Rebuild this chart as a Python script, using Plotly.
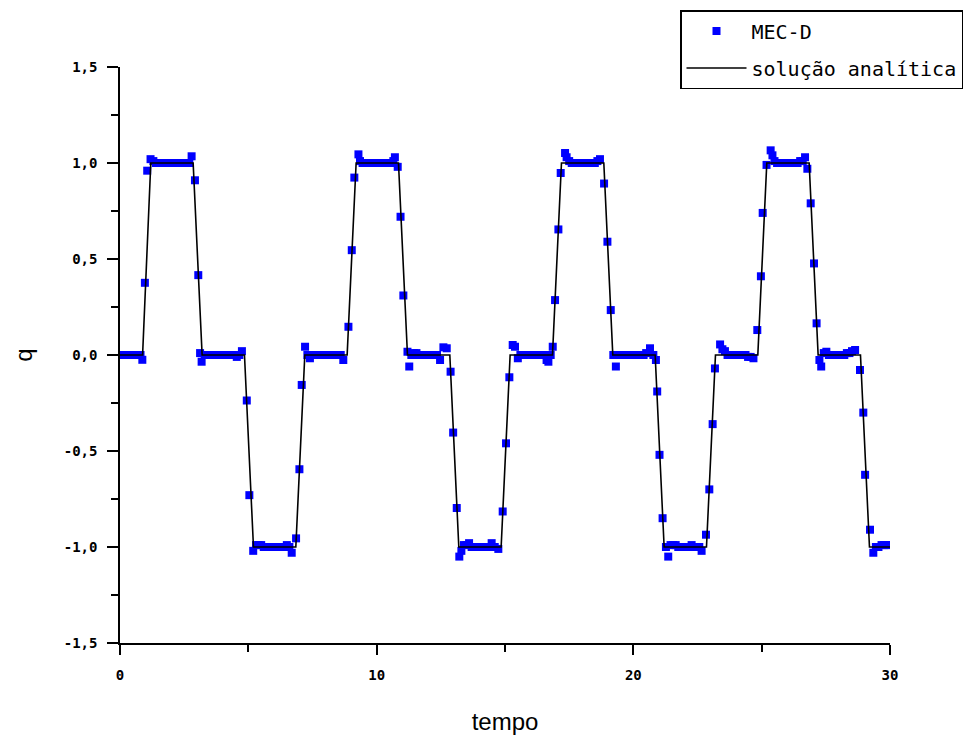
import plotly.graph_objects as go

# analytical solution breakpoints
t_analytic = [0, 0.88, 1.2, 2.85, 3.2, 4.85, 5.2, 6.85, 7.2, 8.85, 9.2, 10.85, 11.2,
              12.85, 13.2, 14.85, 15.2, 16.85, 17.2, 18.85, 19.2, 20.85, 21.2,
              22.85, 23.2, 24.85, 25.2, 26.85, 27.2, 28.85, 29.2, 30]
q_analytic = [0, 0, 1, 1, 0, 0, -1, -1, 0, 0, 1, 1, 0,
              0, -1, -1, 0, 0, 1, 1, 0, 0, -1,
              -1, 0, 0, 1, 1, 0, 0, -1, -1]

# MEC-D numerical points, one line per plateau / transition
t_mec = [
    0, 0.1, 0.2, 0.3, 0.4, 0.5, 0.6, 0.7, 0.8, 0.87,
    0.97, 1.06, 1.19,
    1.3, 1.4, 1.5, 1.6, 1.7, 1.8, 1.9, 2.0, 2.1, 2.2, 2.3, 2.4, 2.5, 2.6, 2.7, 2.79,
    2.92, 3.05, 3.12, 3.18,
    3.3, 3.4, 3.5, 3.6, 3.7, 3.8, 3.9, 4.0, 4.1, 4.2, 4.3, 4.4, 4.55, 4.65, 4.75,
    4.94, 5.04, 5.19,
    5.3, 5.4, 5.5, 5.6, 5.7, 5.8, 5.9, 6.0, 6.1, 6.2, 6.3, 6.4, 6.5, 6.6, 6.69,
    6.86, 6.99, 7.08, 7.21,
    7.3, 7.4, 7.5, 7.6, 7.7, 7.8, 7.9, 8.0, 8.1, 8.2, 8.3, 8.4, 8.5, 8.6, 8.7,
    8.9, 9.03, 9.13, 9.29,
    9.35, 9.45, 9.55, 9.65, 9.75, 9.85, 9.95, 10.05, 10.15, 10.25, 10.35, 10.45, 10.55, 10.65, 10.71,
    10.82, 10.93, 11.04, 11.2, 11.27,
    11.35, 11.45, 11.55, 11.65, 11.75, 11.85, 11.95, 12.05, 12.15, 12.25, 12.35, 12.47, 12.6, 12.73,
    12.88, 12.98, 13.12, 13.22,
    13.3, 13.4, 13.5, 13.6, 13.7, 13.8, 13.9, 14.0, 14.1, 14.2, 14.3, 14.4, 14.48, 14.6, 14.74,
    14.91, 15.04, 15.17, 15.3,
    15.39, 15.5, 15.6, 15.7, 15.8, 15.9, 16.0, 16.1, 16.2, 16.3, 16.4, 16.5, 16.62, 16.69, 16.78, 16.86,
    16.95, 17.08, 17.17, 17.34,
    17.4, 17.5, 17.6, 17.7, 17.8, 17.9, 18.0, 18.1, 18.2, 18.3, 18.4, 18.5, 18.6, 18.7,
    18.86, 18.99, 19.12, 19.22, 19.32,
    19.4, 19.5, 19.6, 19.7, 19.8, 19.9, 20.0, 20.1, 20.2, 20.3, 20.4, 20.5, 20.65, 20.78, 20.88,
    20.93, 21.02, 21.14, 21.27, 21.36,
    21.45, 21.55, 21.65, 21.75, 21.85, 21.95, 22.05, 22.15, 22.27, 22.37, 22.47, 22.57, 22.66,
    22.83, 22.96, 23.09, 23.18, 23.38,
    23.47, 23.57, 23.67, 23.77, 23.87, 23.97, 24.07, 24.17, 24.27, 24.37, 24.47, 24.57, 24.68,
    24.83, 24.97, 25.04, 25.19, 25.35, 25.42,
    25.5, 25.6, 25.7, 25.8, 25.9, 26.0, 26.1, 26.2, 26.3, 26.4, 26.5, 26.6, 26.69,
    26.78, 26.91, 27.04, 27.14, 27.25, 27.32,
    27.42, 27.52, 27.62, 27.72, 27.82, 27.92, 28.02, 28.12, 28.22, 28.32, 28.42, 28.52, 28.64,
    28.83, 28.96, 29.03, 29.22, 29.35,
    29.45, 29.55, 29.67, 29.77, 29.87, 29.97,
]
q_mec = [
    0, 0, 0, 0, 0, 0, 0, 0, 0, -0.025,
    0.376, 0.96, 1.02,
    1.01, 1.0, 1.0, 1.0, 1.0, 1.0, 1.0, 1.0, 1.0, 1.0, 1.0, 1.0, 1.0, 1.0, 1.0, 1.035,
    0.91, 0.416, 0.01, -0.035,
    0, 0, 0, 0, 0, 0, 0, 0, 0, 0, 0, 0, -0.01, 0.0, 0.02,
    -0.237, -0.73, -1.02,
    -0.99, -0.99, -0.99, -1.0, -1.0, -1.0, -1.0, -1.0, -1.0, -1.0, -1.0, -1.0, -0.99, -1.0, -1.03,
    -0.955, -0.595, -0.156, 0.043,
    0.0, -0.017, 0, 0, 0, 0, 0, 0, 0, 0, 0, 0, 0, 0, -0.026,
    0.147, 0.546, 0.924, 1.045,
    1.01, 1.0, 1.0, 1.0, 1.0, 1.0, 1.0, 1.0, 1.0, 1.0, 1.0, 1.0, 1.0, 1.01, 1.03,
    0.98, 0.72, 0.31, 0.017, -0.06,
    0.0, 0.01, 0.01, 0.0, 0, 0, 0, 0, 0, 0, 0, -0.026, 0.04, 0.035,
    -0.087, -0.404, -0.797, -1.05,
    -1.02, -0.99, -0.99, -0.98, -1.0, -1.0, -1.0, -1.0, -1.0, -1.0, -1.0, -1.0, -0.98, -1.0, -1.01,
    -0.815, -0.46, -0.116, 0.052,
    0.043, -0.017, 0, 0, 0, 0, 0, 0, 0, 0, 0, 0, -0.026, -0.035, 0.0, 0.043,
    0.286, 0.654, 0.948, 1.052,
    1.03, 1.01, 1.0, 1.0, 1.0, 1.0, 1.0, 1.0, 1.0, 1.0, 1.0, 1.0, 1.01, 1.02,
    0.893, 0.59, 0.234, 0.0, -0.06,
    0, 0, 0, 0, 0, 0, 0, 0, 0, 0, 0, 0.01, 0.035, 0.0, -0.026,
    -0.19, -0.52, -0.85, -1.0, -1.05,
    -0.99, -0.99, -0.99, -1.0, -1.0, -1.0, -1.0, -1.0, -0.99, -1.0, -1.0, -1.0, -1.02,
    -0.936, -0.70, -0.36, -0.07, 0.055,
    0.03, 0.02, 0.0, 0, 0, 0, 0, 0, 0, 0, -0.01, -0.01, -0.017,
    0.13, 0.41, 0.74, 0.99, 1.066, 1.04,
    1.01, 1.0, 1.0, 1.0, 1.0, 1.0, 1.0, 1.0, 1.0, 1.0, 1.01, 1.01, 1.03,
    0.97, 0.79, 0.477, 0.165, -0.026, -0.06,
    0.01, 0.017, 0.0, 0, 0, 0, 0, 0, 0, 0.01, 0.01, 0.02, 0.026,
    -0.078, -0.30, -0.624, -0.91, -1.03,
    -1.0, -1.0, -0.99, -0.99, -0.99, -0.99,
]

y_tickvals = [-1.5, -1.0, -0.5, 0.0, 0.5, 1.0, 1.5]
y_ticktext = ["-1,5", "-1,0", "-0,5", "0,0", "0,5", "1,0", "1,5"]
x_tickvals = [0, 10, 20, 30]
x_ticktext = ["0", "10", "20", "30"]

fig = go.Figure()
fig.add_trace(go.Scatter(
    x=t_mec, y=q_mec, mode="markers", name="MEC-D", legendgroup="a",
    marker=dict(symbol="square", size=8, color="#0000FF", line=dict(width=0)),
))
fig.add_trace(go.Scatter(
    x=t_analytic, y=q_analytic, mode="lines", name="solução analítica", legendgroup="b",
    line=dict(color="black", width=1.6),
))

tickfont = dict(family="DejaVu Sans Mono, monospace", size=14, color="black", weight="bold")
titlefont = dict(family="Liberation Sans, Arial, sans-serif", size=24, color="black")

fig.update_layout(
    width=980, height=743,
    margin=dict(l=120, r=90, t=67, b=100, autoexpand=False),
    paper_bgcolor="white", plot_bgcolor="white",
    showlegend=True,
    legend=dict(
        x=(680 - 120) / 770, y=(643 - 10) / 576, xanchor="left", yanchor="top",
        bgcolor="white", bordercolor="black", borderwidth=1.5,
        font=dict(family="DejaVu Sans Mono, monospace", size=20, color="black"),
        itemwidth=60, tracegroupgap=8,
        entrywidthmode="pixels", entrywidth=300,
    ),
    xaxis=dict(
        range=[0, 30], showgrid=False, zeroline=False,
        showline=True, linecolor="black", linewidth=1.5,
        ticks="outside", ticklen=10, tickwidth=1.5, tickcolor="black",
        tickvals=x_tickvals, ticktext=x_ticktext, tickfont=tickfont,
        ticklabelstandoff=8,
        minor=dict(dtick=5, ticks="outside", ticklen=7, tickwidth=1.5, tickcolor="black"),
        title=dict(text="tempo", font=titlefont, standoff=32),
    ),
    yaxis=dict(
        range=[-1.5, 1.5], showgrid=False, zeroline=False,
        showline=True, linecolor="black", linewidth=1.5,
        ticks="outside", ticklen=11, tickwidth=1.5, tickcolor="black",
        tickvals=y_tickvals, ticktext=y_ticktext, tickfont=tickfont,
        ticklabelstandoff=7,
        minor=dict(dtick=0.25, ticks="outside", ticklen=7, tickwidth=1.5, tickcolor="black"),
        title=dict(text="q", font=titlefont, standoff=24),
    ),
)

fig.write_html("out.html")
